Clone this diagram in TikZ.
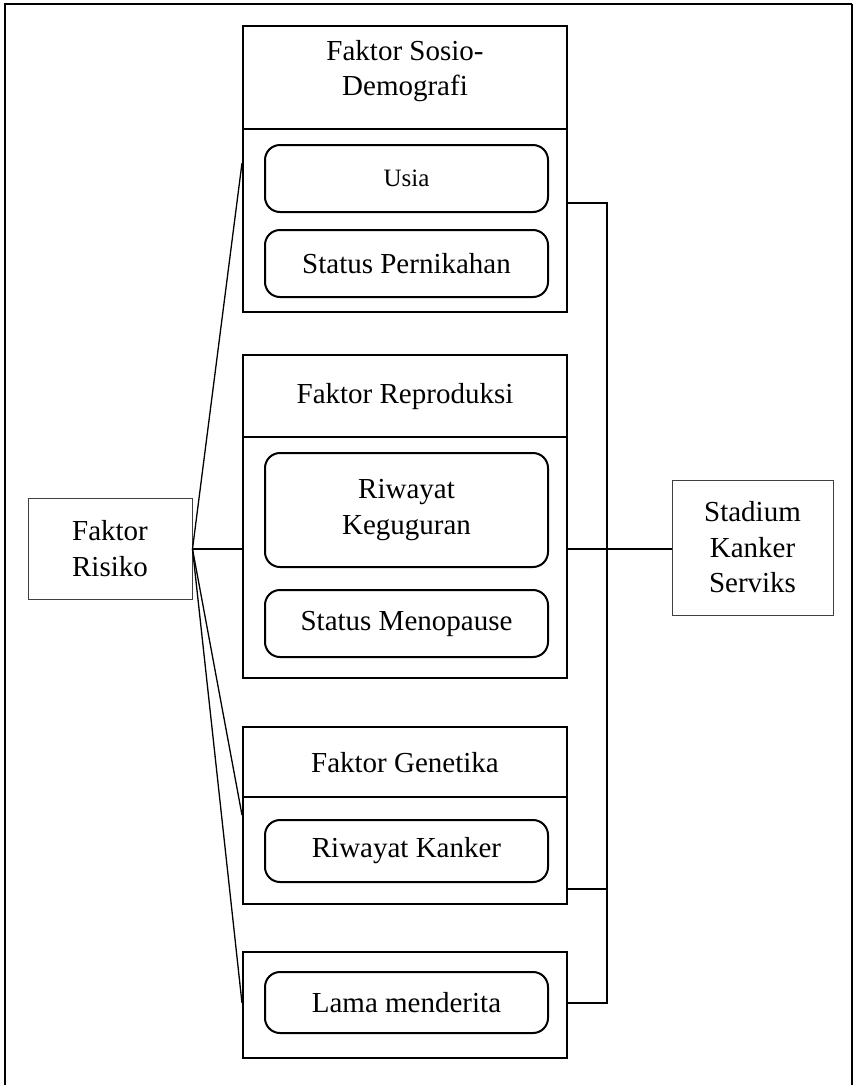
\documentclass[tikz,border=0pt]{standalone}
\usepackage{fontspec}
\setmainfont{Liberation Serif}
\begin{document}
\begin{tikzpicture}[x=1pt,y=-1pt,
  grp/.style={draw=black,line width=2pt,inner sep=0pt},
  itembox/.style={draw=black,line width=2pt,rounded corners=15pt,inner sep=0pt,minimum width=283pt},
  side/.style={draw=black!75,line width=1pt,inner sep=0pt},
  lbl/.style={font=\fontsize{29}{35.5}\selectfont,align=center,inner sep=0pt},
  small/.style={font=\fontsize{25}{30}\selectfont,align=center,inner sep=0pt},
  conn/.style={draw=black,line width=1.6pt},
  fan/.style={draw=black,line width=1.3pt}]
\useasboundingbox (0,0) rectangle (857,1085);
% outer frame
\draw[line width=2pt] (5,1085) |- (852,4);
\draw[line width=1.3pt] (852,4) -- (852,1085);
% groups
\node[grp,minimum width=324pt,minimum height=286pt] (g1) at (405,169) {};
\node[grp,minimum width=324pt,minimum height=323pt] (g2) at (405,516.5) {};
\node[grp,minimum width=324pt,minimum height=177pt] (g3) at (405,815.5) {};
\node[grp,minimum width=324pt,minimum height=106pt] (g4) at (405,1005) {};
\draw[line width=2pt] (g1.west |- 0,129) -- (g1.east |- 0,129);
\draw[line width=2pt] (g2.west |- 0,437) -- (g2.east |- 0,437);
\draw[line width=2pt] (g3.west |- 0,797) -- (g3.east |- 0,797);
% headers
\node[lbl] (h1) at (405,71) {Faktor Sosio-\\Demografi};
\node[lbl] (h2) at (405,397) {Faktor Reproduksi};
\node[lbl] (h3) at (405,763) {Faktor Genetika};
% items
\node[itembox,minimum height=67pt] (u1) at (406.5,178.5) {};
\node[small] at (u1) {Usia};
\node[itembox,minimum height=67pt,lbl] (u2) at (406.5,263.5) {Status Pernikahan};
\node[itembox,minimum height=114pt,lbl] (r1) at (406.5,510) {Riwayat\\Keguguran};
\node[itembox,minimum height=67pt,lbl] (r2) at (406.5,623.5) {Status Menopause};
\node[itembox,minimum height=62pt,lbl] (k1) at (406.5,851) {Riwayat Kanker};
\node[itembox,minimum height=61pt,lbl] (l1) at (406.5,1002.5) {Lama menderita};
% side boxes
\node[side,minimum width=164pt,minimum height=101pt,lbl] (risk) at (110,548.5) {Faktor\\Risiko};
\node[side,minimum width=161pt,minimum height=135pt,lbl] (stad) at (752.5,547.5) {Stadium\\Kanker\\Serviks};
% fan connectors
\coordinate (f) at (risk.east |- 0,549);
\draw[fan] (f) -- (g1.west |- 0,163);
\draw[conn] (f) -- (g2.west |- 0,549);
\draw[fan] (f) -- (g3.west |- 0,815);
\draw[fan] (f) -- (g4.west |- 0,1003);
% right bracket
\coordinate (bt) at (607,203);
\coordinate (bb) at (607,1003);
\draw[conn] (g1.east |- bt) -- (bt) -- (bb) -- (g4.east |- bb);
\draw[conn] (g2.east |- 0,549) -- (stad.west |- 0,549);
\draw[conn] (g3.east |- 0,889) -- (bt |- 0,889);
\end{tikzpicture}
\end{document}
